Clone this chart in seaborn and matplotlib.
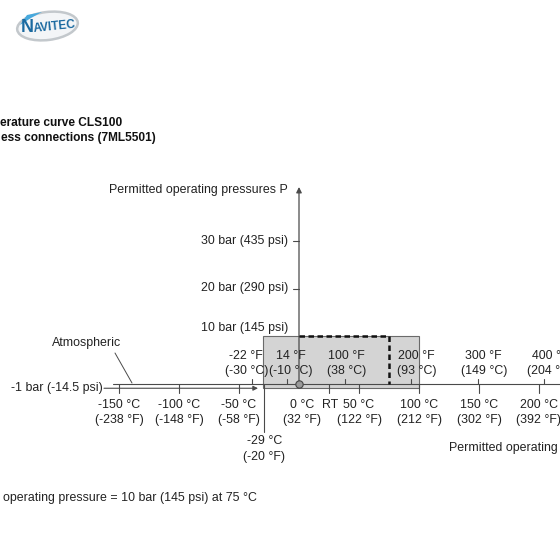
import matplotlib
matplotlib.use("Agg")
import matplotlib.pyplot as plt
from matplotlib.patches import Rectangle, Ellipse, Polygon
import pandas as pd
import seaborn as sns

# ---------------- data ----------------
celsius_ticks = [-150, -100, -50, 0, 50, 100, 150, 200]
celsius_labels = ["-150 °C", "-100 °C", "-50 °C", "0 °C", "50 °C", "100 °C", "150 °C", "200 °C"]
celsius_sub = ["(-238 °F)", "(-148 °F)", "(-58 °F)", "(32 °F)", "(122 °F)", "(212 °F)", "(302 °F)", "(392 °F)"]
rt_temp = 25
rt_label = "RT"
fahr_ticks_c = [-39, -10, 38, 93, 149, 204]
fahr_labels = ["-22 °F", "14 °F", "100 °F", "200 °F", "300 °F", "400 °F"]
fahr_sub = ["(-30 °C)", "(-10 °C)", "(38 °C)", "(93 °C)", "(149 °C)", "(204 °C)"]
pressure_ticks = [10, 20, 30]
pressure_labels = ["10 bar (145 psi)", "20 bar (290 psi)", "30 bar (435 psi)"]
vacuum_p = -1
vacuum_label = "-1 bar (-14.5 psi)"
range_temp = [-30, 100]
range_press = [-1, 10]
limit_temp = [0, 75, 75]
limit_press = [10, 10, 0]
min_temp = -29
min_temp_labels = ["-29 °C", "(-20 °F)"]

# ---------------- layout ----------------
sns.set_theme(style="white")
plt.rcParams["font.family"] = ["Liberation Sans", "DejaVu Sans"]
FS = 8.9
TXT = "#222222"
LN = "#4a4a4a"

X0, SX = 299.0, 1.2      # pixel of 0 degC, pixels per degC
Y0, SY = 383.5, 4.75     # pixel of 0 bar, pixels per bar


def xd(px):
    return (px - X0) / SX


def yd(px):
    return (Y0 - px) / SY


fig = plt.figure(figsize=(5.6, 5.6), dpi=100)
ax = fig.add_axes([0, 0, 1, 1])

# permitted range box
ax.add_patch(Rectangle((range_temp[0], range_press[0]),
                       range_temp[1] - range_temp[0], range_press[1] - range_press[0],
                       facecolor="#d4d4d4", edgecolor="#6a6a6a", lw=0.8, zorder=1))

# atmospheric (0 bar) temperature axis
ax.plot([xd(113), xd(560)], [0, 0], color=LN, lw=0.8, zorder=2)
# -1 bar line with arrow
ax.annotate("", xy=(xd(258), vacuum_p), xytext=(xd(104), vacuum_p),
            arrowprops=dict(arrowstyle="-|>", color=LN, lw=0.8, mutation_scale=7,
                            shrinkA=0, shrinkB=0), zorder=2)
# pressure axis with arrow
ax.annotate("", xy=(0, yd(187)), xytext=(0, vacuum_p),
            arrowprops=dict(arrowstyle="-|>", color=LN, lw=0.9, mutation_scale=8,
                            shrinkA=0, shrinkB=0), zorder=3)

# pressure ticks and labels
for p, lab in zip(pressure_ticks, pressure_labels):
    if p != range_press[1]:
        ax.plot([xd(293), 0], [p, p], color=LN, lw=0.8, zorder=3)
        ax.text(xd(288), p, lab, ha="right", va="center", fontsize=FS, color=TXT)
    else:
        ax.text(xd(288), yd(328), lab, ha="right", va="center", fontsize=FS, color=TXT)
ax.text(xd(103), vacuum_p, vacuum_label, ha="right", va="center", fontsize=FS, color=TXT)
ax.text(xd(288), yd(190), "Permitted operating pressures P", ha="right", va="center",
        fontsize=FS, color=TXT)

# celsius ticks (below axis)
for t, lab, sub in zip(celsius_ticks, celsius_labels, celsius_sub):
    if t != 0:
        ax.plot([t, t], [0, yd(393)], color=LN, lw=0.8, zorder=3)
    ax.text(t + (2.5 if t == 0 else 0), yd(405), lab, ha="center", va="center", fontsize=FS, color=TXT)
    ax.text(t + (2.5 if t == 0 else 0), yd(420.5), sub, ha="center", va="center", fontsize=FS, color=TXT)
ax.plot([rt_temp, rt_temp], [0, yd(393)], color=LN, lw=0.8, zorder=3)
ax.text(rt_temp + 1, yd(405), rt_label, ha="center", va="center", fontsize=FS, color=TXT)

# fahrenheit ticks (above axis)
f_label_shift = [-5, 3, 1.5, 5, 5, 5]
for t, lab, sub, sh in zip(fahr_ticks_c, fahr_labels, fahr_sub, f_label_shift):
    ax.plot([t, t], [yd(379), 0], color=LN, lw=0.8, zorder=3)
    ax.text(t + sh, yd(356), lab, ha="center", va="center", fontsize=FS, color=TXT, zorder=4)
    ax.text(t + sh, yd(371), sub, ha="center", va="center", fontsize=FS, color=TXT, zorder=4)

# minimum temperature marker
ax.plot([min_temp, min_temp], [0, yd(432)], color=LN, lw=0.8, zorder=3)
ax.text(min_temp, yd(441), min_temp_labels[0], ha="center", va="center", fontsize=FS, color=TXT)
ax.text(min_temp, yd(457), min_temp_labels[1], ha="center", va="center", fontsize=FS, color=TXT)

# max pressure / temperature limit (dashed)
limit_df = pd.DataFrame({"temp": limit_temp, "press": limit_press})
sns.lineplot(data=limit_df, x="temp", y="press", sort=False, estimator=None, ax=ax,
             color="#111111", lw=1.8, linestyle=(0, (2.2, 1.4)), zorder=5)

# origin point
sns.scatterplot(x=[0], y=[0], s=28, color="#9a9a9a", edgecolor="#444444", linewidth=0.8,
                ax=ax, zorder=6)

ax.set_xlim(xd(0), xd(560))
ax.set_ylim(yd(560), yd(0))
ax.axis("off")

# atmospheric annotation
ax.plot([xd(115), xd(132)], [yd(353), yd(383)], color=LN, lw=0.7, zorder=3)
ax.text(xd(87), yd(343), "Atmospheric", ha="center", va="center", fontsize=FS, color=TXT)

ax.text(xd(449), yd(448), "Permitted operating", ha="left", va="center", fontsize=FS, color=TXT)

# titles (cropped page text)
ax.text(xd(0), yd(123), "erature curve CLS100", ha="left", va="center", fontsize=8.6,
        fontweight="bold", color="#111111")
ax.text(xd(1), yd(137.5), "ess connections (7ML5501)", ha="left", va="center", fontsize=8.6,
        fontweight="bold", color="#111111")
ax.text(xd(3), yd(498), "operating pressure = 10 bar (145 psi) at 75 °C", ha="left", va="center",
        fontsize=FS, color=TXT)

# logo
tf = fig.transFigure
fig.patches.append(Ellipse((47.5 / 560, 1 - 26 / 560), 61 / 560, 28 / 560, angle=7,
                           facecolor="#f3f5f7", edgecolor="#c3c8cc", lw=1.8, transform=tf))
fig.patches.append(Polygon([(20 / 560, 1 - 25 / 560), (27 / 560, 1 - 15 / 560),
                            (42 / 560, 1 - 12 / 560), (31 / 560, 1 - 18 / 560)],
                           closed=True, facecolor="#47a9dd", edgecolor="none", transform=tf))
fig.text(27 / 560, 1 - 28 / 560, "N", fontsize=13, fontweight="bold", color="#1b6aa0",
         ha="center", va="center")
fig.text(54.5 / 560, 1 - 26.5 / 560, "AVITEC", fontsize=8.6, fontweight="bold", color="#1b6aa0",
         ha="center", va="center", rotation=6)

fig.savefig("out.png", dpi=100)
